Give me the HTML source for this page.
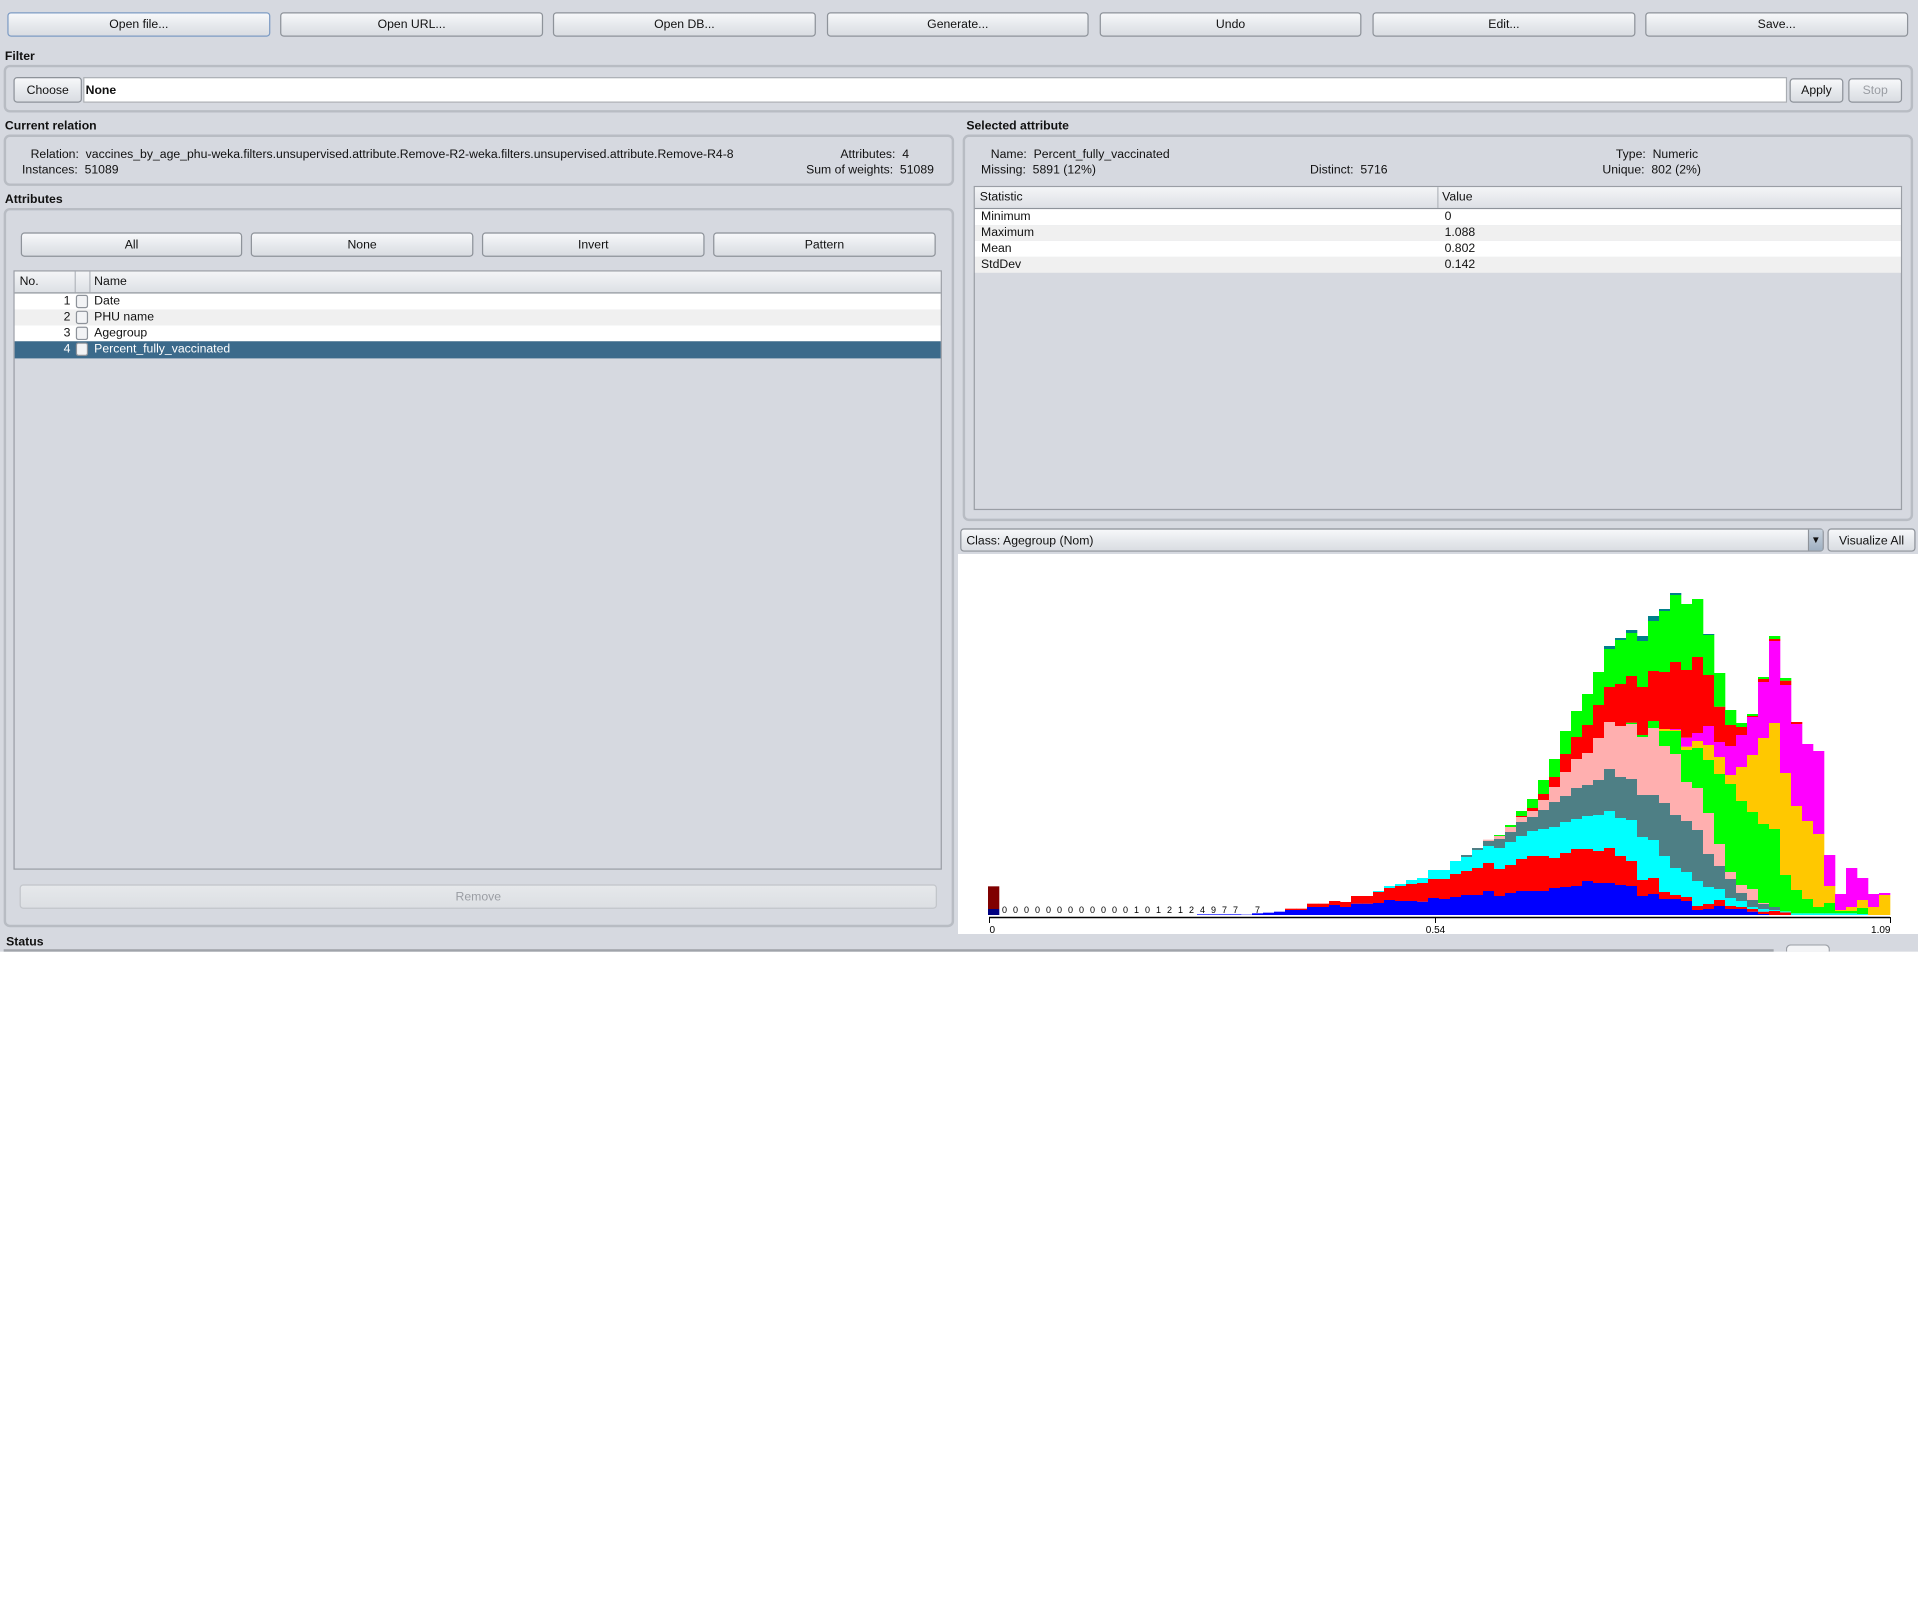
<!DOCTYPE html>
<html><head><meta charset="utf-8"><style>
html,body{margin:0;padding:0;background:#fff;}
body{width:1918px;height:1620px;position:relative;overflow:hidden;font-family:"Liberation Sans",Arial,sans-serif;}
#ui{position:absolute;left:0;top:0;width:1568px;height:778px;background:#d6d9e0;transform:scale(1.22321);transform-origin:0 0;font-size:10px;color:#111;}
#ui div{position:absolute;box-sizing:border-box;}
.btn{background:linear-gradient(#f7f8fa,#e4e7eb 60%,#dadde2);border:1px solid #8e939a;border-radius:3px;text-align:center;line-height:20px;}
.lbl{font-weight:bold;font-size:10px;}
.box{border:2px solid #b8bcc3;border-radius:5px;}
.t{white-space:nowrap;}
.dis{color:#9a9da3;}
.row div{top:1px;}
</style></head><body>
<div id="ui">
  <div class="btn" style="left:6px;top:10px;width:215px;height:20px;border-color:#7d9cc4;">Open file...</div>
  <div class="btn" style="left:229px;top:10px;width:215px;height:20px;">Open URL...</div>
  <div class="btn" style="left:452px;top:10px;width:215px;height:20px;">Open DB...</div>
  <div class="btn" style="left:676px;top:10px;width:214px;height:20px;">Generate...</div>
  <div class="btn" style="left:899px;top:10px;width:214px;height:20px;">Undo</div>
  <div class="btn" style="left:1122px;top:10px;width:215px;height:20px;">Edit...</div>
  <div class="btn" style="left:1345px;top:10px;width:215px;height:20px;">Save...</div>

  <div class="lbl t" style="left:4px;top:41px;">Filter</div>
  <div class="box" style="left:3px;top:53px;width:1561px;height:39px;"></div>
  <div class="btn" style="left:11px;top:63px;width:56px;height:21px;line-height:21px;">Choose</div>
  <div style="left:68px;top:63px;width:1393px;height:21px;background:#fff;border:1px solid #a9adb3;font-weight:bold;line-height:22px;padding-left:1px;">None</div>
  <div class="btn" style="left:1463px;top:64px;width:44px;height:20px;">Apply</div>
  <div class="btn dis" style="left:1511px;top:64px;width:44px;height:20px;">Stop</div>

  <div class="lbl t" style="left:4px;top:98px;">Current relation</div>
  <div class="box" style="left:3px;top:110px;width:777px;height:42px;"></div>
  <div class="t" style="left:25px;top:121px;">Relation:&nbsp; vaccines_by_age_phu-weka.filters.unsupervised.attribute.Remove-R2-weka.filters.unsupervised.attribute.Remove-R4-8</div>
  <div class="t" style="left:18px;top:134px;">Instances:&nbsp; 51089</div>
  <div class="t" style="left:687px;top:121px;">Attributes:&nbsp; 4</div>
  <div class="t" style="left:659px;top:134px;">Sum of weights:&nbsp; 51089</div>

  <div class="lbl t" style="left:4px;top:158px;">Attributes</div>
  <div class="box" style="left:3px;top:170px;width:777px;height:588px;"></div>
  <div class="btn" style="left:17px;top:190px;width:181px;height:20px;">All</div>
  <div class="btn" style="left:205px;top:190px;width:182px;height:20px;">None</div>
  <div class="btn" style="left:394px;top:190px;width:182px;height:20px;">Invert</div>
  <div class="btn" style="left:583px;top:190px;width:182px;height:20px;">Pattern</div>
  <div style="left:11px;top:221px;width:759px;height:490px;border:1px solid #9a9ea5;background:#d6d9e0;">
    <div style="left:0;top:0;width:757px;height:18px;background:linear-gradient(#f4f5f7,#dde0e5);border-bottom:1px solid #8e939a;">
      <div style="left:4px;top:3px;">No.</div>
      <div style="left:49px;top:0;width:1px;height:17px;background:#b3b7bd;"></div>
      <div style="left:61px;top:0;width:1px;height:17px;background:#b3b7bd;"></div>
      <div style="left:65px;top:3px;">Name</div>
    </div>
    <div class="row" style="left:0;top:18px;width:757px;height:13px;background:#fff;"><div style="left:40px;">1</div><div style="left:50px;top:1px;width:10px;height:11px;border:1px solid #8e939a;border-radius:2px;background:#f2f3f5;"></div><div style="left:65px;">Date</div></div>
    <div class="row" style="left:0;top:31px;width:757px;height:13px;background:#f0f0f0;"><div style="left:40px;">2</div><div style="left:50px;top:1px;width:10px;height:11px;border:1px solid #8e939a;border-radius:2px;background:#f2f3f5;"></div><div style="left:65px;">PHU name</div></div>
    <div class="row" style="left:0;top:44px;width:757px;height:13px;background:#fff;"><div style="left:40px;">3</div><div style="left:50px;top:1px;width:10px;height:11px;border:1px solid #8e939a;border-radius:2px;background:#f2f3f5;"></div><div style="left:65px;">Agegroup</div></div>
    <div class="row" style="left:0;top:57px;width:757px;height:14px;background:#3b6a8b;color:#fff;"><div style="left:40px;">4</div><div style="left:50px;top:1px;width:10px;height:11px;border:1px solid #8e939a;border-radius:2px;background:#f2f3f5;"></div><div style="left:65px;">Percent_fully_vaccinated</div></div>
  </div>
  <div class="btn dis" style="left:16px;top:723px;width:750px;height:20px;border-color:#c2c5ca;background:linear-gradient(#e6e8eb,#dcdfe3);">Remove</div>

  <div class="lbl t" style="left:790px;top:98px;">Selected attribute</div>
  <div class="box" style="left:787px;top:110px;width:777px;height:316px;"></div>
  <div class="t" style="left:810px;top:121px;">Name:&nbsp; Percent_fully_vaccinated</div>
  <div class="t" style="left:802px;top:134px;">Missing:&nbsp; 5891 (12%)</div>
  <div class="t" style="left:1071px;top:134px;">Distinct:&nbsp; 5716</div>
  <div class="t" style="left:1321px;top:121px;">Type:&nbsp; Numeric</div>
  <div class="t" style="left:1310px;top:134px;">Unique:&nbsp; 802 (2%)</div>
  <div style="left:796px;top:152px;width:759px;height:265px;border:1px solid #9a9ea5;">
    <div style="left:0;top:0;width:757px;height:18px;background:linear-gradient(#f4f5f7,#dde0e5);border-bottom:1px solid #8e939a;"><div style="left:4px;top:3px;">Statistic</div><div style="left:378px;top:0;width:1px;height:17px;background:#b3b7bd;"></div><div style="left:382px;top:3px;">Value</div></div>
    <div class="row" style="left:0;top:18px;width:757px;height:13px;background:#fff;"><div style="left:5px;">Minimum</div><div style="left:384px;">0</div></div>
    <div class="row" style="left:0;top:31px;width:757px;height:13px;background:#f0f0f0;"><div style="left:5px;">Maximum</div><div style="left:384px;">1.088</div></div>
    <div class="row" style="left:0;top:44px;width:757px;height:13px;background:#fff;"><div style="left:5px;">Mean</div><div style="left:384px;">0.802</div></div>
    <div class="row" style="left:0;top:57px;width:757px;height:13px;background:#f0f0f0;"><div style="left:5px;">StdDev</div><div style="left:384px;">0.142</div></div>
  </div>

  <div class="btn" style="left:785px;top:432px;width:706px;height:19px;text-align:left;padding-left:4px;line-height:19px;">Class: Agegroup (Nom)
    <div style="left:692px;top:0;width:12px;height:17px;background:linear-gradient(#c9d3de,#9fb0c2);border-left:1px solid #8e939a;font-size:8px;line-height:17px;text-align:center;padding:0;">▼</div></div>
  <div class="btn" style="left:1494px;top:432px;width:72px;height:19px;line-height:19px;">Visualize All</div>

  <div class="lbl t" style="left:5px;top:765px;">Status</div>
  <div style="left:3px;top:776px;width:1447px;height:2px;background:#a0a4aa;"></div>
  <div style="left:1460px;top:772px;width:36px;height:6px;border:1px solid #9a9ea5;border-bottom:none;border-radius:4px 4px 0 0;background:#f3f4f6;"></div>
</div>

<svg id="hist" style="position:absolute;left:958px;top:554px;" width="960" height="380" viewBox="958 554 960 380">
<rect x="958" y="554" width="960" height="380" fill="#fff"/>
</svg>

<script>
// histogram data: counts per bin (82 bins), stacked per age-group class
const z19 = [0,0,0,0,0,0,0,0,0,0,0,0,0,0,0,0,0,0,0];
const binBlue = z19.concat([2,2,2,2,1,5,7,10,15,15,24,24,30,24,34,34,36,45,42,42,40,51,48,54,60,60,72,57,66,72,72,72,81,84,87,102,96,96,90,87,57,63,48,48,42,15,18,27,18,18,10,3,0,0,0,0,0,0,0,0,0,0,0]);
const binRed1 = z19.concat([0,0,0,0,0,0,0,0,4,4,10,10,12,15,23,23,33,36,45,51,56,57,60,69,72,81,84,81,84,96,105,105,90,102,111,96,96,105,87,75,48,48,21,12,12,12,15,18,9,6,8,7,12,8,0,0,0,0,0,0,0,0,0]);
const binCyan = z19.concat([0,0,0,0,0,0,0,0,0,0,0,0,0,0,0,0,3,6,6,12,15,27,27,39,42,54,51,63,69,69,75,81,93,93,90,99,108,111,114,123,129,114,108,81,75,75,51,33,24,18,6,8,3,3,5,5,5,5,5,5,3,0,0]);
const binSlate = z19.concat([0,0,0,0,0,0,0,0,0,0,0,0,0,0,0,0,0,0,0,0,0,0,0,0,6,6,15,27,30,42,42,57,75,78,93,93,105,126,123,123,126,135,159,159,153,153,99,69,57,24,21,15,9,0,0,0,0,0,0,0,0,0,0]);
const binPink = z19.concat([0,0,0,0,0,0,0,0,0,0,0,0,0,0,0,0,0,0,0,0,0,0,0,0,0,0,4,9,15,15,18,30,45,72,87,96,126,141,153,165,174,201,171,183,117,126,123,66,21,24,33,3,0,0,0,0,0,0,0,0,0,0,0]);
const binGreen1 = z19.concat([0,0,0,0,0,0,0,0,0,0,0,0,0,0,0,0,0,0,0,0,0,0,0,0,0,0,0,0,0,0,0,0,0,0,0,0,0,0,0,4,6,21,45,69,96,120,159,210,264,252,231,237,234,109,70,43,19,31,7,7,18,0,0]);
const binOrange = z19.concat([0,0,0,0,0,0,0,0,0,0,0,0,0,0,0,0,0,0,0,0,0,0,0,0,0,0,0,0,0,0,0,0,0,0,0,0,0,0,0,0,0,0,6,3,10,21,45,51,27,102,171,258,318,306,252,234,219,51,3,12,24,24,60]);
const binMagenta = z19.concat([0,0,0,0,0,0,0,0,0,0,0,0,0,0,0,0,0,0,0,0,0,0,0,0,0,0,0,0,0,0,0,0,0,0,0,0,0,0,0,0,0,0,0,3,27,24,57,45,87,96,114,168,246,264,246,231,249,93,48,117,66,39,6]);
const binRed2 = z19.concat([0,0,0,0,0,0,0,0,0,0,0,0,0,0,0,0,0,0,0,0,0,0,0,0,0,0,0,0,0,3,9,18,30,54,66,84,99,105,126,140,144,150,171,201,203,228,153,106,63,24,3,9,6,13,6,0,0,0,0,0,0,0,0]);
const binGreen2 = z19.concat([0,0,0,0,0,0,0,0,0,0,0,0,0,0,0,0,0,0,0,0,0,0,0,0,0,0,0,3,6,15,27,42,54,69,78,93,99,114,132,129,138,150,183,201,198,174,120,101,45,12,6,6,9,8,0,0,0,0,0,0,0,0,0]);
const binTeal = z19.concat([0,0,0,0,0,0,0,0,0,0,0,0,0,0,0,0,0,0,0,0,0,0,0,0,0,0,0,0,0,0,0,0,0,0,0,0,0,9,6,9,15,15,6,6,0,0,3,0,0,0,0,0,0,0,0,0,0,0,0,0,0,0,0]);
const binNavy = [18].concat(new Array(81).fill(0));
const binDarkRed = [68].concat(new Array(81).fill(0));
const layerColors = ["#0000ff","#ff0000","#00ffff","#4e7f85","#ffafaf","#00ff00","#ffc800","#ff00ff","#ff0000","#00ff00","#00808a","#000080","#800000"];
const layerNames = ["blue","red","cyan","slate","pink","green","orange","magenta","red-2","green-2","teal","navy","dark-red"];
const binLabels = ["","0","0","0","0","0","0","0","0","0","0","0","0","1","0","1","2","1","2","4","9","7","7","","7"];
const tickValues = [0, 0.54, 1.09];
const tickText = ["0","0.54","1.09"];

const layers = [binBlue,binRed1,binCyan,binSlate,binPink,binGreen1,binOrange,binMagenta,binRed2,binGreen2,binTeal,binNavy,binDarkRed];
const NS = "http://www.w3.org/2000/svg";
const svg = document.getElementById("hist");
const nBins = binBlue.length;
const xLeft = 988, xRight = 1890, baseY = 915;
const binW = (xRight - xLeft) / nBins;
const xBin = i => xLeft + i * binW;
const xVal = v => 989 + (v / 1.09) * (xRight - 989);
const yCount = c => baseY - c * 335 / 1005;

for (let i = 0; i < nBins; i++) {
  let cum = 0;
  for (let L = 0; L < layers.length; L++) {
    const v = layers[L][i];
    if (!v) continue;
    const r = document.createElementNS(NS, "rect");
    r.setAttribute("x", xBin(i));
    r.setAttribute("width", binW + 0.3);
    r.setAttribute("y", yCount(cum + v));
    r.setAttribute("height", yCount(cum) - yCount(cum + v));
    r.setAttribute("fill", layerColors[L]);
    
    
    svg.appendChild(r);
    cum += v;
  }
}
binLabels.forEach((t, i) => {
  if (!t) return;
  const tx = document.createElementNS(NS, "text");
  tx.setAttribute("x", xBin(i) + binW / 2);
  tx.setAttribute("y", 913);
  tx.setAttribute("text-anchor", "middle");
  tx.setAttribute("font-size", "9");
  tx.setAttribute("font-family", "Liberation Sans, sans-serif");
  tx.textContent = t;
  
  
  svg.appendChild(tx);
});
const axis = document.createElementNS(NS, "line");
axis.setAttribute("x1", 989); axis.setAttribute("x2", xRight);
axis.setAttribute("y1", 917.5); axis.setAttribute("y2", 917.5);
axis.setAttribute("stroke", "#000"); axis.setAttribute("stroke-width", "1.5");


svg.appendChild(axis);
tickValues.forEach((v, i) => {
  const x = Math.round(xVal(v)) + 0.5;
  const tk = document.createElementNS(NS, "line");
  tk.setAttribute("x1", x); tk.setAttribute("x2", x);
  tk.setAttribute("y1", 917); tk.setAttribute("y2", 923);
  tk.setAttribute("stroke", "#000");
  
  
  svg.appendChild(tk);
  const tl = document.createElementNS(NS, "text");
  tl.setAttribute("x", x);
  tl.setAttribute("y", 933);
  tl.setAttribute("text-anchor", i === 0 ? "start" : (i === tickValues.length - 1 ? "end" : "middle"));
  tl.setAttribute("font-size", "10");
  tl.setAttribute("font-family", "Liberation Sans, sans-serif");
  tl.textContent = tickText[i];
  
  
  svg.appendChild(tl);
});
</script>
</body></html>
